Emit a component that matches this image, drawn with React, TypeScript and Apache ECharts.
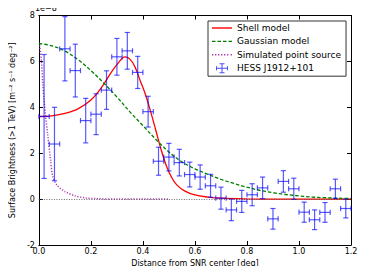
import React, { useEffect, useRef } from "react";
import * as echarts from "echarts";

// HESS J1912+101 radial profile (units of 1e-8 m^-2 s^-1 deg^-2)
const hessX = [0.02, 0.06, 0.10, 0.14, 0.18, 0.22, 0.26, 0.30, 0.34, 0.38, 0.42, 0.46, 0.50, 0.54, 0.58, 0.62, 0.66, 0.70, 0.74, 0.78, 0.82, 0.86, 0.90, 0.94, 0.98, 1.02, 1.06, 1.10, 1.14, 1.18];
const hessY = [3.6, 2.4, 6.55, 5.6, 3.42, 3.7, 4.75, 6.2, 6.46, 5.52, 3.81, 1.65, 1.83, 1.59, 1.07, 0.96, 0.58, 0.04, -0.47, -0.10, 0.19, 0.49, -0.86, 0.77, 0.45, -0.57, -0.90, -0.58, 0.45, -0.41];
const hessYErr = [2.7, 1.6, 1.4, 1.15, 0.97, 0.89, 0.84, 0.8, 0.8, 0.7, 0.67, 0.61, 0.6, 0.58, 0.54, 0.53, 0.5, 0.48, 0.47, 0.48, 0.48, 0.47, 0.45, 0.47, 0.46, 0.44, 0.43, 0.43, 0.42, 0.41];
const hessXErr = [0.02, 0.02, 0.02, 0.02, 0.02, 0.02, 0.02, 0.02, 0.02, 0.02, 0.02, 0.02, 0.02, 0.02, 0.02, 0.02, 0.02, 0.02, 0.02, 0.02, 0.02, 0.02, 0.02, 0.02, 0.02, 0.02, 0.02, 0.02, 0.02, 0.02];

const shellX = [0.0, 0.05, 0.10, 0.15, 0.20, 0.24, 0.28, 0.31, 0.33, 0.35, 0.37, 0.39, 0.41, 0.43, 0.45, 0.47, 0.49, 0.51, 0.53, 0.56, 0.60, 0.65, 0.70, 0.80, 0.90, 1.0, 1.1, 1.2];
const shellY = [3.6, 3.63, 3.73, 3.93, 4.32, 4.85, 5.55, 6.0, 6.2, 6.1, 5.75, 5.15, 4.55, 3.8, 2.98, 2.15, 1.45, 0.95, 0.62, 0.36, 0.18, 0.09, 0.04, 0.01, 0.0, 0.0, 0.0, 0.0];

const gaussX = [0.0, 0.05, 0.10, 0.15, 0.20, 0.25, 0.30, 0.35, 0.40, 0.45, 0.50, 0.55, 0.60, 0.65, 0.70, 0.75, 0.80, 0.85, 0.90, 0.95, 1.0, 1.05, 1.10, 1.15, 1.2];
const gaussY = [6.78, 6.68, 6.45, 6.08, 5.6, 5.05, 4.45, 3.8, 3.2, 2.6, 2.05, 1.62, 1.32, 1.08, 0.86, 0.68, 0.52, 0.38, 0.28, 0.2, 0.14, 0.09, 0.06, 0.04, 0.03];

const pointX = [0.003, 0.01, 0.015, 0.02, 0.025, 0.033, 0.045, 0.053, 0.07, 0.10, 0.14, 0.18, 0.22, 0.30, 0.40, 0.50];
const pointY = [6.7, 6.0, 5.0, 4.3, 3.7, 2.9, 1.7, 1.0, 0.6, 0.33, 0.14, 0.05, 0.02, 0.0, 0.0, 0.0];

const xTicks = ["0.0", "0.2", "0.4", "0.6", "0.8", "1.0", "1.2"];
const yTicks = ["-2", "0", "2", "4", "6", "8"];
const scaleLabel = "1e\u22128";

const FONT = "DejaVu Sans";
const BLUE = "#0000ff";
const RED = "#ff0000";
const GREEN = "#008000";
const PURPLE = "#b040b0";

const iconSolid = "path://M0,0h20v1.4h-20z";
const iconDashed = "path://M0,0h3.5v1.4h-3.5z M5.5,0h3.5v1.4h-3.5z M11,0h3.5v1.4h-3.5z M16.5,0h3.5v1.4h-3.5z";
const iconDotted =
  "path://M0,0h1.4v1.4h-1.4z M3,0h1.4v1.4h-1.4z M6,0h1.4v1.4h-1.4z M9,0h1.4v1.4h-1.4z M12,0h1.4v1.4h-1.4z M15,0h1.4v1.4h-1.4z M18.6,0h1.4v1.4h-1.4z";
const iconErr =
  "path://M0,4.5h12v1h-12z M5.5,0h1v10h-1z M3.5,0h5v1h-5z M3.5,9h5v1h-5z M0,3h1v4h-1z M11,3h1v4h-1z";

export default function App() {
  const ref = useRef<HTMLDivElement>(null);
  useEffect(() => {
    if (!ref.current) return;
    const chart = echarts.init(ref.current, undefined, { renderer: "svg" });
    const zip = (xs: number[], ys: number[]) => xs.map((x, i) => [x, ys[i]]);
    const hessData = hessX.map((x, i) => [x, hessY[i], hessYErr[i], hessXErr[i]]);
    const axisCommon = {
      type: "value" as const,
      axisLine: { show: true, onZero: false, lineStyle: { color: "#000", width: 1 } },
      axisTick: { show: true, inside: true, length: 4, lineStyle: { color: "#000" } },
      splitLine: { show: false },
    };
    chart.setOption({
      animation: false,
      backgroundColor: "#fff",
      textStyle: { fontFamily: FONT },
      title: {
        text: scaleLabel,
        left: 33,
        top: 2,
        padding: 2,
        textStyle: { fontSize: 8, fontWeight: "normal", color: "#000", fontFamily: FONT },
      },
      grid: { left: 36, right: 15, top: 15.5, bottom: 29, containLabel: false },
      xAxis: [
        {
          ...axisCommon,
          position: "bottom",
          min: 0,
          max: 1.2,
          interval: 0.2,
          name: "Distance from SNR center [deg]",
          nameLocation: "middle",
          nameGap: 9,
          nameTextStyle: { fontSize: 8, color: "#000", fontFamily: FONT },
          axisLabel: {
            fontSize: 8,
            color: "#000",
            margin: 2,
            fontFamily: FONT,
            formatter: (v: number) => xTicks[Math.round(v / 0.2)] ?? "",
          },
        },
        {
          ...axisCommon,
          position: "top",
          min: 0,
          max: 1.2,
          interval: 0.2,
          axisLabel: { show: false },
        },
      ],
      yAxis: [
        {
          ...axisCommon,
          position: "left",
          min: -2,
          max: 8,
          interval: 2,
          name: "Surface Brightness (>1 TeV) [m\u207B\u00B2 s\u207B\u00B9 deg\u207B\u00B2]",
          nameLocation: "middle",
          nameGap: 17,
          nameTextStyle: { fontSize: 8, color: "#000", fontFamily: FONT },
          axisLabel: {
            fontSize: 8,
            color: "#000",
            margin: 4,
            fontFamily: FONT,
            formatter: (v: number) => yTicks[Math.round((v + 2) / 2)] ?? "",
          },
        },
        {
          ...axisCommon,
          position: "right",
          min: -2,
          max: 8,
          interval: 2,
          axisLabel: { show: false },
        },
      ],
      legend: {
        orient: "vertical",
        left: 208,
        top: 21,
        width: 140,
        padding: [2, 5, 3, 4],
        itemWidth: 20,
        itemHeight: 10,
        itemGap: 3.4,
        backgroundColor: "#fff",
        borderColor: "#333",
        borderWidth: 1,
        borderRadius: 0,
        textStyle: { fontSize: 9, color: "#000", fontFamily: FONT, lineHeight: 10 },
        data: [
          { name: "Shell model", icon: iconSolid, itemStyle: { color: RED } },
          { name: "Gaussian model", icon: iconDashed, itemStyle: { color: GREEN } },
          { name: "Simulated point source", icon: iconDotted, itemStyle: { color: PURPLE } },
          { name: "HESS J1912+101", icon: iconErr, itemStyle: { color: BLUE, opacity: 0.7 } },
        ],
      },
      series: [
        {
          name: "Shell model",
          type: "line",
          data: zip(shellX, shellY),
          smooth: 0.35,
          symbol: "none",
          lineStyle: { color: RED, width: 1.3 },
          itemStyle: { color: RED },
          z: 3,
          markLine: {
            silent: true,
            symbol: "none",
            label: { show: false },
            lineStyle: { color: "#444", type: [1, 1.5], width: 0.8 },
            data: [{ yAxis: 0 }],
          },
        },
        {
          name: "Gaussian model",
          type: "line",
          data: zip(gaussX, gaussY),
          smooth: 0.35,
          symbol: "none",
          lineStyle: { color: GREEN, width: 1.3, type: [3.5, 2] },
          itemStyle: { color: GREEN },
          z: 3,
        },
        {
          name: "Simulated point source",
          type: "line",
          data: zip(pointX, pointY),
          smooth: 0.3,
          symbol: "none",
          lineStyle: { color: PURPLE, width: 1.5, type: [1.2, 1.6] },
          itemStyle: { color: PURPLE },
          z: 3,
        },
        {
          name: "HESS J1912+101",
          type: "custom",
          data: hessData,
          encode: { x: 0, y: 1 },
          itemStyle: { color: BLUE },
          z: 4,
          renderItem: (_params: any, api: any) => {
            const x = api.value(0);
            const y = api.value(1);
            const ey = api.value(2);
            const ex = api.value(3);
            const top = api.coord([x, y + ey]);
            const bot = api.coord([x, y - ey]);
            const lft = api.coord([x - ex, y]);
            const rgt = api.coord([x + ex, y]);
            const cap = 2.6;
            const style = { stroke: BLUE, lineWidth: 1.2, opacity: 0.65 };
            const ln = (x1: number, y1: number, x2: number, y2: number) => ({
              type: "line",
              shape: { x1, y1, x2, y2 },
              style,
            });
            return {
              type: "group",
              children: [
                ln(top[0], top[1], bot[0], bot[1]),
                ln(lft[0], lft[1], rgt[0], rgt[1]),
                ln(top[0] - cap, top[1], top[0] + cap, top[1]),
                ln(bot[0] - cap, bot[1], bot[0] + cap, bot[1]),
                ln(lft[0], lft[1] - cap, lft[0], lft[1] + cap),
                ln(rgt[0], rgt[1] - cap, rgt[0], rgt[1] + cap),
              ],
            };
          },
        },
      ],
    });
    return () => chart.dispose();
  }, []);
  return <div ref={ref} style={{ width: 366, height: 274, margin: -8 }} />;
}
